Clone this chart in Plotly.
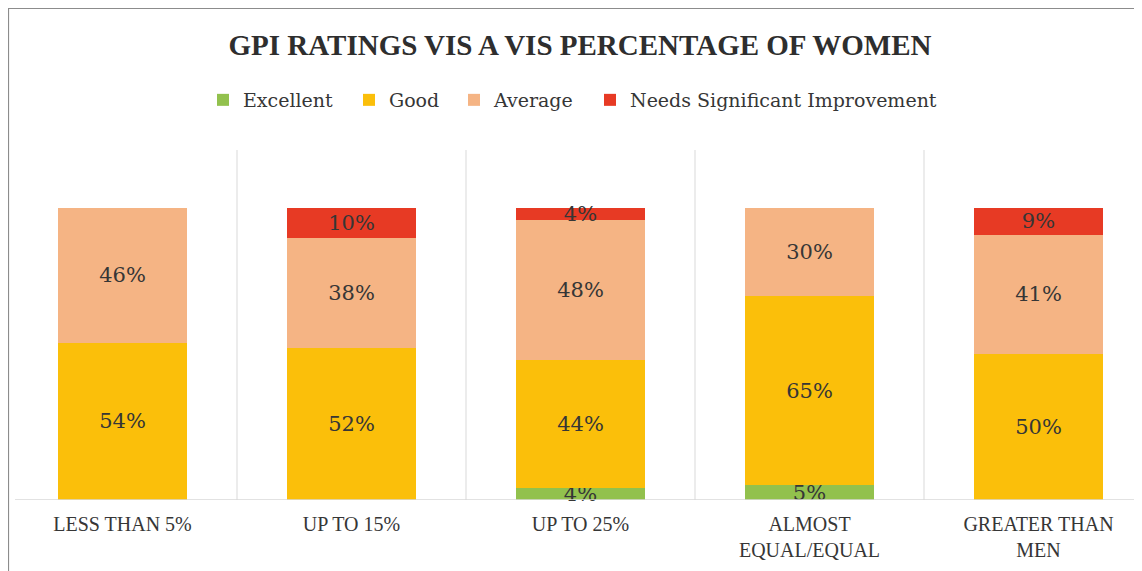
import plotly.graph_objects as go

categories = ["LESS THAN 5%", "UP TO 15%", "UP TO 25%", "ALMOST<br>EQUAL/EQUAL", "GREATER THAN<br>MEN"]
series_names = ["Excellent", "Good", "Average", "Needs Significant Improvement"]
excellent = [0, 0, 4, 5, 0]
good = [54, 52, 44, 65, 50]
average = [46, 38, 48, 30, 41]
needs_improvement = [0, 10, 4, 0, 9]
colors = ["#92C14D", "#FBBF0A", "#F5B484", "#E73A24"]

# page body has an 8px margin: figure origin sits at screen (8, 8)
OFF = 8
W, H = 1142 - OFF, 571 - OFF
L, R, T, B = 0, 0, 150 - OFF, 571 - 500
pw = W - L - R
ph = H - T - B
cat_px = 229.0
xmax = -0.5 + pw / cat_px

TXT = "#363636"
FONT = "DejaVu Serif"

def px_x(sx):
    return (sx - OFF - L) / pw

def px_y(sy):
    return (H - B - (sy - OFF)) / ph

legend_square_x = [216, 362, 467, 603]
legend_ids = ["legend", "legend2", "legend3", "legend4"]

fig = go.Figure()
for name, vals, col, lid in zip(series_names, [excellent, good, average, needs_improvement], colors, legend_ids):
    fig.add_trace(go.Bar(
        x=list(range(len(categories))), y=vals, name=name, legend=lid,
        marker=dict(color=col, line=dict(width=0)),
        text=[f"{v}%" if v else "" for v in vals],
        textposition="inside", insidetextanchor="middle",
        constraintext="none", cliponaxis=False,
        textfont=dict(family=FONT, size=21, color=TXT),
        hoverinfo="skip",
    ))

shapes = []
for k in range(len(categories) - 1):
    shapes.append(dict(type="line", xref="x", yref="paper", x0=k + 0.5, x1=k + 0.5, y0=0, y1=1,
                       line=dict(color="#D9D9D9", width=1)))
# category axis baseline
shapes.append(dict(type="line", xref="paper", yref="y", x0=px_x(15), x1=1.0, y0=0, y1=0,
                   line=dict(color="#D9D9D9", width=1.5)))
# outer chart border (cropped on right/bottom)
shapes.append(dict(type="rect", xref="paper", yref="paper",
                   x0=0.5 / pw, x1=1.2, y0=-0.5, y1=(H - B - 0.5) / ph,
                   line=dict(color="#8C8C8C", width=1.2), fillcolor="rgba(0,0,0,0)", layer="below"))

legend_cfg = {}
for lid, sx in zip(legend_ids, legend_square_x):
    legend_cfg[lid] = dict(orientation="h", x=px_x(sx - 13), xanchor="left",
                           y=px_y(100), yanchor="middle",
                           font=dict(family=FONT, size=19, color=TXT),
                           bgcolor="rgba(0,0,0,0)")

fig.update_layout(
    width=W, height=H,
    margin=dict(l=L, r=R, t=T, b=B, pad=0),
    barmode="stack", bargap=0.437,
    plot_bgcolor="white", paper_bgcolor="white",
    title=dict(text="<b>GPI RATINGS VIS A VIS PERCENTAGE OF WOMEN</b>",
               x=(580 - OFF) / W, xanchor="center", y=1 - (45 - OFF) / H, yanchor="middle",
               font=dict(family="Liberation Serif", size=29, color="#2e2e2e")),
    xaxis=dict(tickmode="array", tickvals=list(range(len(categories))), ticktext=categories,
               range=[-0.5, xmax], showgrid=False, zeroline=False,
               showline=False, ticks="",
               ticklabelstandoff=10,
               tickfont=dict(family="Liberation Serif", size=20, color=TXT), fixedrange=True),
    yaxis=dict(range=[0, 120], visible=False, fixedrange=True),
    shapes=shapes,
    showlegend=True,
    **legend_cfg,
)

fig.write_html("out.html")
